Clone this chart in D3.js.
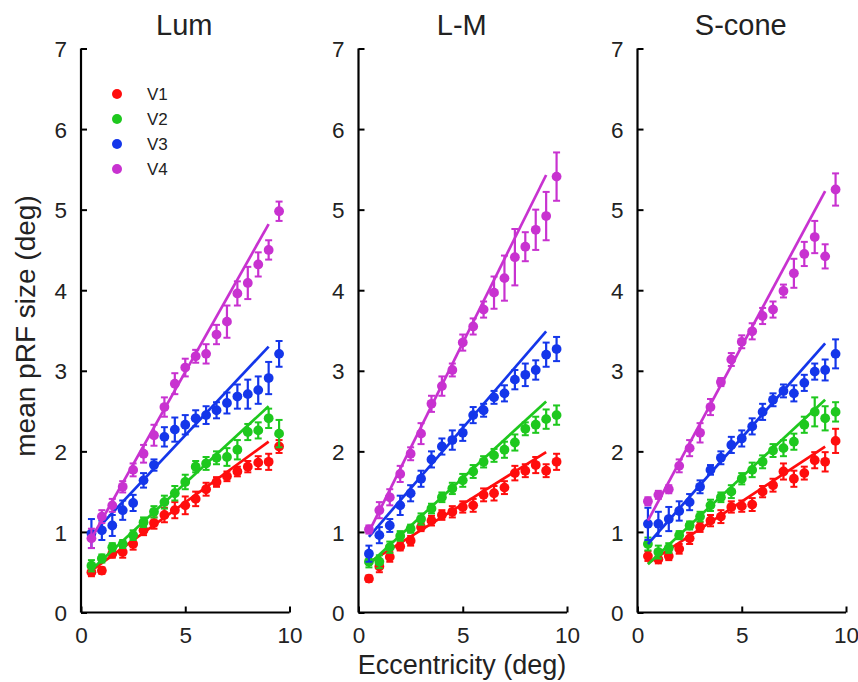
<!DOCTYPE html>
<html>
<head>
<meta charset="utf-8">
<script src="https://cdn.jsdelivr.net/npm/d3@7"></script>
<style>
  html, body { margin: 0; padding: 0; background: #fff; }
  svg { display: block; font-family: "Liberation Sans", Arial, Helvetica, sans-serif; }
</style>
</head>
<body>
<svg id="chart" width="858" height="682"></svg>
<script>
// ---------------- data ----------------
const panels = ["Lum", "L-M", "S-cone"];
const areas = ["V1", "V2", "V3", "V4"];
const colors = ["#ff0d0d", "#1ec81e", "#1436ea", "#c832d0"];
const eccentricity = [0.5, 1, 1.5, 2, 2.5, 3, 3.5, 4, 4.5, 5, 5.5, 6, 6.5, 7, 7.5, 8, 8.5, 9, 9.5];
const xTicks = [0, 5, 10];
const yTicks = [0, 1, 2, 3, 4, 5, 6, 7];
const fitRange = [0.5, 9.0];

// Lum
const lumV1 = [0.50,0.52,0.73,0.75,0.85,1.02,1.11,1.21,1.27,1.33,1.41,1.53,1.62,1.69,1.75,1.81,1.86,1.87,2.06];
const lumV2 = [0.58,0.67,0.81,0.85,0.96,1.12,1.25,1.37,1.48,1.62,1.81,1.85,1.92,1.93,2.02,2.24,2.26,2.41,2.22];
const lumV3 = [0.98,1.02,1.08,1.27,1.36,1.64,1.83,2.18,2.27,2.33,2.41,2.45,2.51,2.60,2.68,2.71,2.76,2.91,3.21];
const lumV4 = [0.92,1.19,1.33,1.56,1.77,1.97,2.20,2.55,2.84,3.04,3.18,3.21,3.45,3.61,3.96,4.09,4.32,4.50,4.98];
const lumErrV1 = [0.05,0.04,0.05,0.07,0.07,0.06,0.07,0.09,0.10,0.11,0.09,0.08,0.06,0.06,0.06,0.07,0.08,0.10,0.08];
const lumErrV2 = [0.07,0.05,0.05,0.05,0.06,0.06,0.07,0.08,0.09,0.09,0.07,0.08,0.08,0.11,0.12,0.10,0.10,0.12,0.17];
const lumErrV3 = [0.18,0.12,0.13,0.12,0.10,0.09,0.07,0.12,0.15,0.12,0.10,0.11,0.10,0.13,0.15,0.18,0.17,0.20,0.16];
const lumErrV4 = [0.12,0.08,0.08,0.07,0.08,0.11,0.13,0.12,0.13,0.11,0.08,0.12,0.12,0.20,0.15,0.20,0.15,0.12,0.12];
const lumFit = [[0.52, 2.12], [0.53, 2.56], [0.96, 3.30], [0.92, 4.82]];

// L-M
const lmV1 = [0.42,0.57,0.69,0.82,0.89,1.06,1.14,1.21,1.25,1.31,1.33,1.46,1.48,1.55,1.73,1.76,1.83,1.76,1.87];
const lmV2 = [0.63,0.63,0.81,0.95,1.04,1.16,1.29,1.43,1.54,1.64,1.75,1.87,1.95,2.02,2.11,2.28,2.33,2.40,2.45];
const lmV3 = [0.73,0.96,1.08,1.33,1.48,1.66,1.90,2.06,2.14,2.23,2.45,2.51,2.67,2.72,2.89,2.95,3.01,3.20,3.27];
const lmV4 = [1.03,1.27,1.43,1.72,1.97,2.22,2.59,2.81,3.01,3.35,3.55,3.76,3.97,4.15,4.41,4.54,4.75,4.92,5.41];
const lmErrV1 = [0.04,0.07,0.06,0.05,0.06,0.05,0.06,0.06,0.07,0.07,0.08,0.08,0.09,0.08,0.09,0.08,0.10,0.08,0.10];
const lmErrV2 = [0.07,0.08,0.07,0.06,0.05,0.07,0.06,0.06,0.07,0.08,0.08,0.07,0.08,0.10,0.10,0.08,0.10,0.12,0.12];
const lmErrV3 = [0.10,0.10,0.08,0.12,0.10,0.10,0.10,0.10,0.12,0.10,0.10,0.08,0.08,0.10,0.12,0.14,0.12,0.15,0.15];
const lmErrV4 = [0.05,0.10,0.10,0.10,0.08,0.13,0.10,0.12,0.08,0.10,0.10,0.10,0.20,0.28,0.35,0.18,0.25,0.30,0.30];
const lmFit = [[0.62, 1.99], [0.60, 2.62], [0.94, 3.49], [1.00, 5.43]];

// S-cone
const sV1 = [0.70,0.66,0.70,0.79,0.92,1.06,1.14,1.19,1.31,1.32,1.34,1.50,1.58,1.75,1.66,1.73,1.89,1.87,2.13];
const sV2 = [0.85,0.75,0.80,0.96,1.08,1.19,1.33,1.43,1.50,1.66,1.77,1.87,2.01,2.04,2.12,2.33,2.49,2.41,2.49];
const sV3 = [1.10,1.10,1.16,1.26,1.37,1.56,1.77,1.92,2.08,2.16,2.31,2.49,2.64,2.75,2.72,2.85,2.99,3.01,3.21];
const sV4 = [1.38,1.46,1.53,1.82,2.04,2.23,2.55,2.86,3.14,3.36,3.49,3.68,3.76,3.99,4.21,4.45,4.66,4.42,5.25];
const sErrV1 = [0.06,0.05,0.05,0.06,0.07,0.06,0.07,0.08,0.07,0.07,0.08,0.07,0.08,0.10,0.10,0.08,0.10,0.12,0.15];
const sErrV2 = [0.08,0.08,0.06,0.05,0.05,0.06,0.07,0.06,0.08,0.07,0.09,0.08,0.08,0.10,0.10,0.10,0.18,0.15,0.12];
const sErrV3 = [0.20,0.15,0.15,0.12,0.10,0.08,0.06,0.08,0.10,0.10,0.10,0.10,0.08,0.08,0.10,0.10,0.10,0.13,0.18];
const sErrV4 = [0.05,0.05,0.05,0.08,0.10,0.12,0.10,0.05,0.08,0.08,0.10,0.10,0.10,0.08,0.18,0.15,0.20,0.15,0.20];
const sFit = [[0.61, 2.06], [0.60, 2.64], [0.85, 3.34], [1.14, 5.23]];

const panelValues = [[lumV1, lumV2, lumV3, lumV4], [lmV1, lmV2, lmV3, lmV4], [sV1, sV2, sV3, sV4]];
const panelErrors = [[lumErrV1, lumErrV2, lumErrV3, lumErrV4], [lmErrV1, lmErrV2, lmErrV3, lmErrV4], [sErrV1, sErrV2, sErrV3, sErrV4]];
const panelFits = [lumFit, lmFit, sFit];

// ---------------- layout ----------------
const svg = d3.select("#chart");
const panelLeft = [81, 358.5, 637.5];
const panelWidth = 208.5;
const yTop = 48.5, yBottom = 612.5;
const y = d3.scaleLinear().domain([0, 7]).range([yBottom, yTop]);

panels.forEach((name, p) => {
  const x = d3.scaleLinear().domain([0, 10]).range([panelLeft[p], panelLeft[p] + panelWidth]);
  const g = svg.append("g");

  // axes
  const yAxis = d3.axisLeft(y).tickValues(yTicks).tickSize(-6).tickPadding(14).tickFormat(d3.format("d"));
  const gy = g.append("g").attr("transform", `translate(${panelLeft[p]},0)`).call(yAxis);
  const xAxis = d3.axisBottom(x).tickValues(xTicks).tickSize(-6).tickPadding(15).tickFormat(d3.format("d"));
  const gx = g.append("g").attr("transform", `translate(0,${yBottom})`).call(xAxis);
  [gx, gy].forEach(a => {
    a.select(".domain").attr("stroke", "#000").attr("stroke-width", 2.2);
    a.selectAll(".tick line").attr("stroke", "#000").attr("stroke-width", 2);
    a.selectAll(".tick text").attr("font-size", 22.5).attr("fill", "#222")
      .attr("font-family", "'Liberation Sans', Arial, sans-serif");
  });
  gy.select(".domain").attr("d", `M0,${yTop}V${yBottom}`);
  gx.select(".domain").attr("d", `M${panelLeft[p]},0H${panelLeft[p] + panelWidth}`);
  gy.selectAll(".tick text").attr("dy", "0.36em");
  gx.selectAll(".tick text").attr("dy", "0.71em");

  // title
  g.append("text").attr("x", panelLeft[p] + panelWidth / 2 - 1).attr("y", 35)
    .attr("text-anchor", "middle").attr("font-size", 29).attr("fill", "#222").text(name);

  areas.forEach((area, s) => {
    const vals = panelValues[p][s];
    const errs = panelErrors[p][s];
    const col = colors[s];
    const pts = eccentricity.map((e, i) => ({ e, v: vals[i], err: errs[i] }));
    const sg = g.append("g");
    // error bars
    sg.selectAll("line.eb").data(pts).join("line").attr("class", "eb")
      .attr("x1", d => x(d.e)).attr("x2", d => x(d.e))
      .attr("y1", d => y(d.v - d.err)).attr("y2", d => y(d.v + d.err))
      .attr("stroke", col).attr("stroke-width", 2.2);
    ["lo", "hi"].forEach(k => {
      sg.selectAll("line.cap" + k).data(pts).join("line").attr("class", "cap" + k)
        .attr("x1", d => x(d.e) - 3.5).attr("x2", d => x(d.e) + 3.5)
        .attr("y1", d => y(k === "lo" ? d.v - d.err : d.v + d.err))
        .attr("y2", d => y(k === "lo" ? d.v - d.err : d.v + d.err))
        .attr("stroke", col).attr("stroke-width", 2);
    });
    // points
    sg.selectAll("circle").data(pts).join("circle")
      .attr("cx", d => x(d.e)).attr("cy", d => y(d.v)).attr("r", 4.9).attr("fill", col);
    // fit line
    const fit = panelFits[p][s];
    const fitPts = fitRange.map((e, i) => [e, fit[i]]);
    sg.append("path").datum(fitPts)
      .attr("d", d3.line().x(d => x(d[0])).y(d => y(d[1])))
      .attr("stroke", col).attr("stroke-width", 2.7).attr("fill", "none");
  });
});

// legend (first panel)
const legend = svg.append("g");
areas.forEach((a, i) => {
  const ly = 94 + i * 25;
  legend.append("circle").attr("cx", 117).attr("cy", ly).attr("r", 5).attr("fill", colors[i]);
  legend.append("text").attr("x", 147).attr("y", ly).attr("dy", "0.36em")
    .attr("font-size", 17).attr("fill", "#222").text(a);
});

// axis labels
svg.append("text").attr("x", 462).attr("y", 674).attr("text-anchor", "middle")
  .attr("font-size", 27).attr("fill", "#222").text("Eccentricity (deg)");
svg.append("text").attr("transform", "translate(35,326) rotate(-90)").attr("text-anchor", "middle")
  .attr("font-size", 28).attr("fill", "#222").text("mean pRF size (deg)");
</script>
</body>
</html>
